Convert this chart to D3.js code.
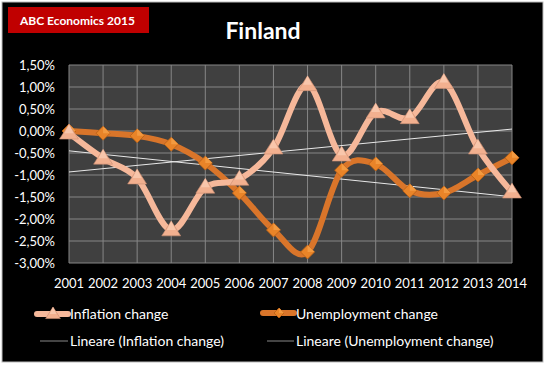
<!DOCTYPE html>
<html>
<head>
<meta charset="utf-8">
<script src="https://d3js.org/d3.v7.min.js"></script>
<style>
  body { margin: 0; background: #fff; }
  svg text { font-family: Lato, "Open Sans", sans-serif; }
</style>
</head>
<body>
<script>
const years = [2001, 2002, 2003, 2004, 2005, 2006, 2007, 2008, 2009, 2010, 2011, 2012, 2013, 2014];
const inflation = [-0.05, -0.62, -1.07, -2.25, -1.28, -1.1, -0.39, 1.05, -0.55, 0.43, 0.3, 1.1, -0.39, -1.39];
const unemployment = [0.0, -0.05, -0.11, -0.3, -0.73, -1.41, -2.25, -2.75, -0.89, -0.75, -1.36, -1.41, -1.0, -0.61];
const yTicks = [1.5, 1.0, 0.5, 0, -0.5, -1.0, -1.5, -2.0, -2.5, -3.0];

const width = 547, height = 365;
const plot = {left: 69, top: 65, right: 512, bottom: 263};

const svg = d3.select("body").append("svg")
  .attr("width", width)
  .attr("height", height);

// frame
svg.append("rect").attr("x", 2).attr("y", 2).attr("width", 541).attr("height", 360)
  .attr("fill", "#000").attr("stroke", "#bbb").attr("stroke-width", 1);

svg.append("rect").attr("x", 8).attr("y", 7).attr("width", 141).attr("height", 26).attr("fill", "#c00000");
svg.append("text").attr("x", 20).attr("y", 25).attr("fill", "#fff")
  .attr("font-size", "12px").attr("font-weight", "bold").text("ABC Economics  2015");
svg.append("text").attr("x", 263).attr("y", 39).attr("fill", "#fff").attr("text-anchor", "middle")
  .attr("font-size", "23px").attr("font-weight", "bold").text("Finland");

var x = d3.scaleLinear().domain([2001, 2014]).range([plot.left, plot.right]);
var y = d3.scaleLinear().domain([-3, 1.5]).range([plot.bottom, plot.top]);

svg.append("rect").attr("x", plot.left).attr("y", plot.top)
  .attr("width", plot.right - plot.left).attr("height", plot.bottom - plot.top)
  .attr("fill", "#404040");

// grid
svg.append("g").selectAll("line").data(yTicks).enter().append("line")
  .attr("x1", plot.left).attr("x2", plot.right)
  .attr("y1", d => y(d)).attr("y2", d => y(d))
  .attr("stroke", "#868686").attr("stroke-width", 1);
svg.append("g").selectAll("line").data(years).enter().append("line")
  .attr("x1", d => x(d)).attr("x2", d => x(d))
  .attr("y1", plot.top).attr("y2", plot.bottom)
  .attr("stroke", "#868686").attr("stroke-width", 1);

// axes labels
var fmt = d => d3.format(".2f")(d).replace(".", ",").replace("−", "-") + "%";
svg.append("g").selectAll("text").data(yTicks).enter().append("text")
  .attr("x", 55).attr("y", d => y(d)).attr("dy", ".35em")
  .attr("text-anchor", "end").attr("fill", "#fff").attr("font-size", "13px")
  .text(fmt);
svg.append("g").selectAll("text").data(years).enter().append("text")
  .attr("x", d => x(d)).attr("y", 288)
  .attr("text-anchor", "middle").attr("fill", "#fff").attr("font-size", "13px")
  .text(d => d);

// trend lines (least squares)
function trend(vals) {
  var n = vals.length, mx = d3.mean(years), my = d3.mean(vals);
  var b = d3.sum(years, (t, i) => (t - mx) * (vals[i] - my)) / d3.sum(years, t => (t - mx) * (t - mx));
  return [[2001, my + b * (2001 - mx)], [2014, my + b * (2014 - mx)]];
}
[inflation, unemployment].forEach(function(vals) {
  var t = trend(vals);
  svg.append("line")
    .attr("x1", x(t[0][0])).attr("y1", y(t[0][1]))
    .attr("x2", x(t[1][0])).attr("y2", y(t[1][1]))
    .attr("stroke", "#e8e8e8").attr("stroke-width", 1);
});

var line = d3.line().x((d, i) => x(years[i])).y(d => y(d)).curve(d3.curveCatmullRom.alpha(0));

svg.append("path").datum(unemployment).attr("d", line)
  .attr("fill", "none").attr("stroke", "#d9752a").attr("stroke-width", 6);
svg.append("path").datum(inflation).attr("d", line)
  .attr("fill", "none").attr("stroke", "#f6b89a").attr("stroke-width", 6);

function diamond(g, cx, cy, r) {
  g.append("path").attr("d", `M${cx},${cy - r}L${cx + r},${cy}L${cx},${cy + r}L${cx - r},${cy}Z`)
    .attr("fill", "#e98428").attr("stroke", "#b85f14").attr("stroke-width", 0.8);
  g.append("path").attr("d", `M${cx},${cy - r}L${cx + r},${cy}L${cx},${cy}Z`).attr("fill", "#f39a40");
}
function triangle(g, cx, cy, r) {
  g.append("path").attr("d", `M${cx},${cy - r}L${cx + r * 1.05},${cy + r * 0.65}L${cx - r * 1.05},${cy + r * 0.65}Z`)
    .attr("fill", "#f2b08f").attr("stroke", "#c98d72").attr("stroke-width", 0.6);
  g.append("path").attr("d", `M${cx},${cy - r}L${cx + r * 0.5},${cy}L${cx - r * 0.5},${cy}Z`).attr("fill", "#f8c6ab");
}

var mk = svg.append("g");
unemployment.forEach((v, i) => diamond(mk, x(years[i]), y(v), 7));
var mk2 = svg.append("g");
inflation.forEach((v, i) => triangle(mk2, x(years[i]), y(v), 9));

// legend
var lg = svg.append("g");
lg.append("line").attr("x1", 37).attr("x2", 68).attr("y1", 314).attr("y2", 314)
  .attr("stroke", "#f6b89a").attr("stroke-width", 6).attr("stroke-linecap", "round");
triangle(lg, 53, 314, 7);
lg.append("text").attr("x", 70).attr("y", 319).attr("fill", "#fff").attr("font-size", "14px").text("Inflation change");

lg.append("line").attr("x1", 263).attr("x2", 294).attr("y1", 313).attr("y2", 313)
  .attr("stroke", "#d9752a").attr("stroke-width", 6).attr("stroke-linecap", "round");
diamond(lg, 279, 313, 5);
lg.append("text").attr("x", 296).attr("y", 319).attr("fill", "#fff").attr("font-size", "14px").text("Unemployment change");

lg.append("line").attr("x1", 40).attr("x2", 68).attr("y1", 341).attr("y2", 341).attr("stroke", "#888").attr("stroke-width", 1);
lg.append("text").attr("x", 70).attr("y", 346).attr("fill", "#fff").attr("font-size", "14px").text("Lineare (Inflation change)");
lg.append("line").attr("x1", 267).attr("x2", 294).attr("y1", 341).attr("y2", 341).attr("stroke", "#888").attr("stroke-width", 1);
lg.append("text").attr("x", 296).attr("y", 346).attr("fill", "#fff").attr("font-size", "14px").text("Lineare (Unemployment change)");
</script>
</body>
</html>
